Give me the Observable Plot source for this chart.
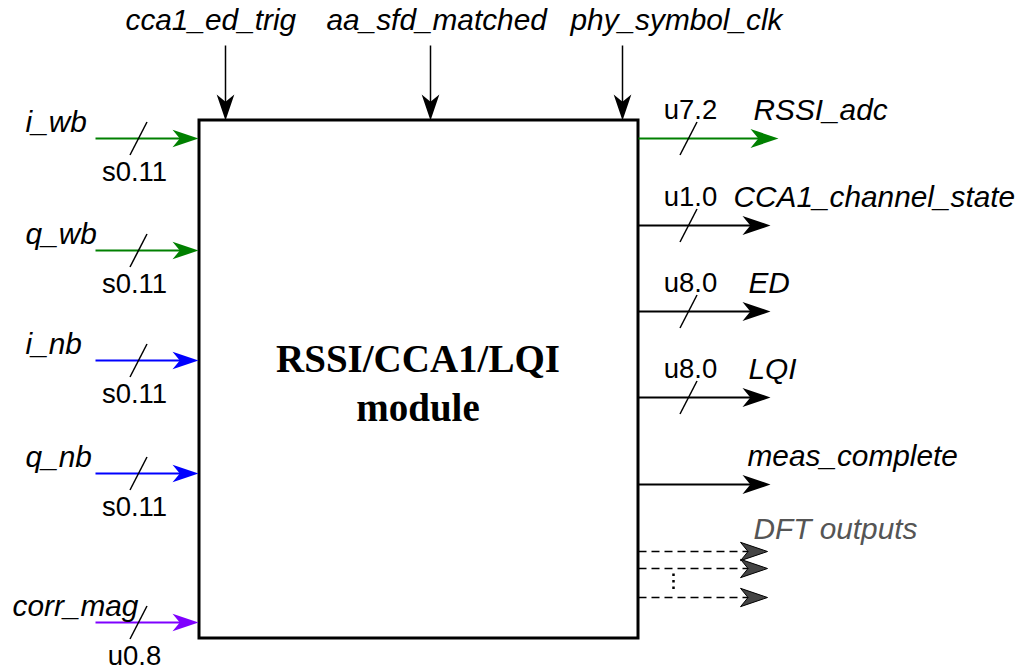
<!DOCTYPE html>
<html>
<head>
<meta charset="utf-8">
<script src="https://cdn.jsdelivr.net/npm/d3@7"></script>
<script src="https://cdn.jsdelivr.net/npm/@observablehq/plot@0.6"></script>
<style>
  html, body { margin: 0; padding: 0; background: #fff; }
  #chart svg { display: block; }
</style>
</head>
<body>
<div id="chart"></div>
<script>
// ---- Signals (data) ----
const inputNames   = ["i_wb", "q_wb", "i_nb", "q_nb", "corr_mag"];
const inputFormats = ["s0.11", "s0.11", "s0.11", "s0.11", "u0.8"];
const inputGroups  = ["wb", "wb", "nb", "nb", "corr"];

const controlNames = ["cca1_ed_trig", "aa_sfd_matched", "phy_symbol_clk"];

const outputNames   = ["RSSI_adc", "CCA1_channel_state", "ED", "LQI", "meas_complete"];
const outputFormats = ["u7.2", "u1.0", "u8.0", "u8.0", ""];
const outputGroups  = ["wb", "ctrl", "ctrl", "ctrl", "ctrl"];

const dftLabel = "DFT outputs";
const dftCount = 3;
const moduleTitle = ["RSSI/CCA1/LQI", "module"];

// ---- Layout (diagram units = pixels of the 1021x670 canvas) ----
const box = {x1: 199, x2: 638, y1: 120, y2: 638};
const inputRows   = [138, 250, 360, 473, 622];
const inputLabelX = [25, 25, 25, 25, 12];
const controlCols   = [225, 430, 622];
const controlLabelX = [125, 326, 570];
const outputRows   = [138, 225, 311, 397, 484];
const outputTipX   = [778, 770, 770, 770, 770];
const outputLabelX = [753, 733, 748, 748, 747];
const dftRows = [551, 568, 597];

const groupDomain = ["wb", "nb", "corr", "ctrl"];
const groupRange  = ["#008000", "#0000ff", "#7f00ff", "#000000"];

// ---- Build tables ----
const inputs = inputNames.map((name, i) => ({
  name, fmt: inputFormats[i], group: inputGroups[i], row: inputRows[i], lx: inputLabelX[i]
}));
const controls = controlNames.map((name, i) => ({name, col: controlCols[i], lx: controlLabelX[i]}));
const outputs = outputNames.map((name, i) => ({
  name, fmt: outputFormats[i], group: outputGroups[i], row: outputRows[i], tip: outputTipX[i], lx: outputLabelX[i]
}));
const dfts = d3.range(dftCount).map(i => ({row: dftRows[i]}));
const withFmt = outputs.filter(d => d.fmt);

// Notched (barbed) filled arrowhead, tip at origin, pointing right
const arrowHead = {
  draw(context, size) {
    const r = Math.sqrt(size / Math.PI);
    context.moveTo(0, 0);
    context.lineTo(-r, -0.34 * r);
    context.lineTo(-0.72 * r, 0);
    context.lineTo(-r, 0.34 * r);
    context.closePath();
  }
};

const sans = "'Liberation Sans', Arial, Helvetica, sans-serif";
const serif = "'Liberation Serif', 'Times New Roman', serif";
const FS = 29.8; // signal names
const FF = 27.5; // bit formats
const slash = 16.5, slashDx = 8.5;

const chart = Plot.plot({
  width: 1021,
  height: 670,
  margin: 0,
  style: {background: "white", overflow: "visible"},
  x: {domain: [0, 1021], range: [0, 1021], axis: null},
  y: {domain: [0, 670], range: [0, 670], axis: null},
  color: {domain: groupDomain, range: groupRange, legend: false},
  marks: [
    // module box
    Plot.rect([box], {x1: "x1", x2: "x2", y1: "y1", y2: "y2", fill: "white", stroke: "black", strokeWidth: 3}),
    Plot.text(moduleTitle, {
      x: (box.x1 + box.x2) / 2 - 1, y: (d, i) => 359 + i * 49, text: d => d,
      fontFamily: serif, fontWeight: "bold", fontSize: 39, fill: "black"
    }),

    // inputs
    Plot.link(inputs, {x1: 95, x2: box.x1 - 10, y1: "row", y2: "row", stroke: "group", strokeWidth: 2}),
    Plot.dot(inputs, {x: box.x1 - 1, y: "row", symbol: arrowHead, r: 26, fill: "group", stroke: "none"}),
    Plot.link(inputs, {x1: 138 + slashDx, x2: 138 - slashDx, y1: d => d.row - slash, y2: d => d.row + slash, stroke: "black", strokeWidth: 1.5}),
    Plot.text(inputs, {x: "lx", y: d => d.row - 16, text: "name", textAnchor: "start", fontFamily: sans, fontStyle: "italic", fontSize: FS, fill: "black"}),
    Plot.text(inputs, {x: 134, y: d => d.row + 34, text: "fmt", textAnchor: "middle", fontFamily: sans, fontSize: FF, fill: "black"}),

    // control inputs from top
    Plot.link(controls, {x1: "col", x2: "col", y1: 45, y2: box.y1 - 8, stroke: "black", strokeWidth: 1.5}),
    Plot.dot(controls, {x: "col", y: box.y1, symbol: arrowHead, r: 26, rotate: 90, fill: "black", stroke: "none"}),
    Plot.text(controls, {x: "lx", y: 20, text: "name", textAnchor: "start", fontFamily: sans, fontStyle: "italic", fontSize: FS, fill: "black"}),

    // outputs
    Plot.link(outputs, {x1: box.x2, x2: d => d.tip - 10, y1: "row", y2: "row", stroke: "group", strokeWidth: 2}),
    Plot.dot(outputs, {x: "tip", y: "row", symbol: arrowHead, r: 28, fill: "group", stroke: "none"}),
    Plot.link(withFmt, {x1: 688 + slashDx, x2: 688 - slashDx, y1: d => d.row - slash, y2: d => d.row + slash, stroke: "black", strokeWidth: 1.5}),
    Plot.text(withFmt, {x: 690, y: d => d.row - 28, text: "fmt", textAnchor: "middle", fontFamily: sans, fontSize: FF, fill: "black"}),
    Plot.text(outputs, {x: "lx", y: d => d.row - 28, text: "name", textAnchor: "start", fontFamily: sans, fontStyle: "italic", fontSize: FS, fill: "black"}),

    // DFT outputs (dashed)
    Plot.link(dfts, {x1: box.x2, x2: 758, y1: "row", y2: "row", stroke: "black", strokeWidth: 1.5, strokeDasharray: "8,5"}),
    Plot.dot(dfts, {x: 767, y: "row", symbol: arrowHead, r: 27, fill: "#444", stroke: "black", strokeWidth: 1}),
    Plot.link([dftRows], {x1: 673, x2: 673, y1: d => d[1] + 5, y2: d => d[2] - 5, stroke: "black", strokeWidth: 2.5, strokeDasharray: "2.5,4"}),
    Plot.text([dftLabel], {x: 753, y: dftRows[0] - 22, text: d => d, textAnchor: "start", fontFamily: sans, fontStyle: "italic", fontSize: FS, fill: "#555"})
  ]
});
document.getElementById("chart").appendChild(chart);
</script>
</body>
</html>
